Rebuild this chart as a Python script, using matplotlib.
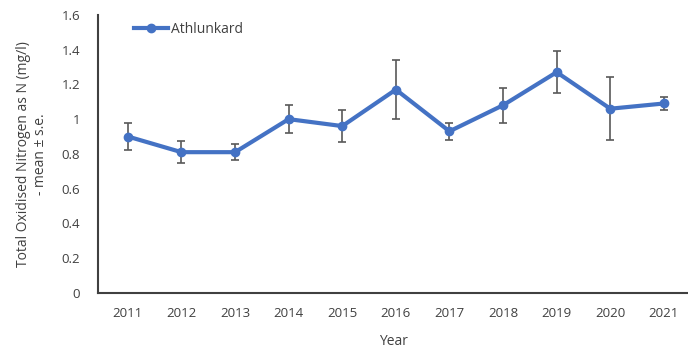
import matplotlib
matplotlib.use('Agg')
import matplotlib.pyplot as plt

years = ['2011', '2012', '2013', '2014', '2015', '2016', '2017', '2018', '2019', '2020', '2021']
means = [0.90, 0.81, 0.81, 1.00, 0.96, 1.17, 0.93, 1.08, 1.27, 1.06, 1.09]
se = [0.08, 0.065, 0.045, 0.08, 0.09, 0.17, 0.05, 0.10, 0.12, 0.18, 0.04]

plt.rcParams['font.family'] = ['Open Sans', 'DejaVu Sans']

fig, ax = plt.subplots(figsize=(6.88, 3.53), dpi=100)
fig.subplots_adjust(left=0.143, right=1.0, top=0.958, bottom=0.17)

x = list(range(len(years)))
ax.errorbar(x, means, yerr=se, fmt='none', ecolor='#595959', elinewidth=1.2,
            capsize=3, capthick=1.2, zorder=1)
ax.plot(x, means, '-o', color='#4472C4', lw=3, ms=6, label='Athlunkard', zorder=2)

ax.set_ylim(0, 1.6)
ax.set_yticks([0, 0.2, 0.4, 0.6, 0.8, 1, 1.2, 1.4, 1.6])
ax.set_yticklabels(['0', '0.2', '0.4', '0.6', '0.8', '1', '1.2', '1.4', '1.6'])
ax.set_xlim(-0.55, 10.45)
ax.set_xticks(x)
ax.set_xticklabels(years)
ax.tick_params(length=0, labelsize=9.5, colors='#404040')
ax.tick_params(axis='x', pad=10)
ax.tick_params(axis='y', pad=13)

for side in ['top', 'right']:
    ax.spines[side].set_visible(False)
for side in ['left', 'bottom']:
    ax.spines[side].set_color('#404040')
    ax.spines[side].set_linewidth(1.5)

ax.set_xlabel('Year', fontsize=10, color='#404040', labelpad=10)
ax.set_ylabel('Total Oxidised Nitrogen as N (mg/l)\n- mean \u00b1 s.e.', fontsize=10,
              color='#404040', labelpad=10)

ax.legend(loc='upper left', bbox_to_anchor=(0.04, 1.02), frameon=False,
          fontsize=10, handlelength=2.4, handletextpad=0.2, labelcolor='#404040')

fig.savefig('out.png', dpi=100)
